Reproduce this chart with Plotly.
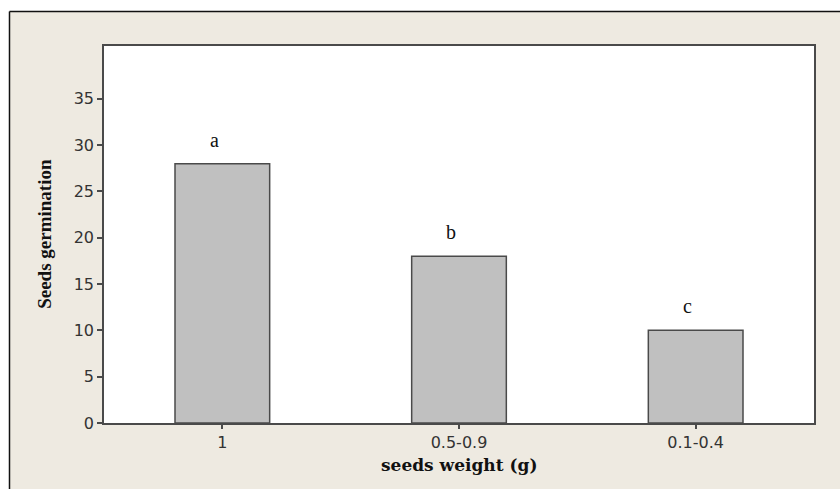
import plotly.graph_objects as go

# Germination by seed-weight class
weight_classes = ["1", "0.5-0.9", "0.1-0.4"]
germination = [28, 18, 10]
group_letters = ["a", "b", "c"]
y_ticks = [0, 5, 10, 15, 20, 25, 30, 35]

BEIGE = "#EEEAE1"
BAR_FILL = "#C0C0C0"
EDGE = "#4a4a4a"

fig = go.Figure()
fig.add_trace(go.Bar(
    x=weight_classes,
    y=germination,
    width=0.40,
    marker=dict(color=BAR_FILL, line=dict(color=EDGE, width=1.5)),
    hoverinfo="x+y",
))

# significance letters above each bar (positioned by category index)
for i, (val, letter) in enumerate(zip(germination, group_letters)):
    fig.add_annotation(
        x=i, y=val, text=letter, showarrow=False,
        xanchor="center", yanchor="middle", xshift=-8, yshift=24,
        font=dict(family="Liberation Serif", size=20, color="#111"),
    )

# axis titles
fig.add_annotation(
    x=0.5, y=-0.111, xref="paper", yref="paper", text="<b>seeds weight (g)</b>",
    showarrow=False, xanchor="center", yanchor="middle",
    font=dict(family="DejaVu Serif", size=17, color="#111"),
)
fig.add_annotation(
    x=-0.083, y=0.502, xref="paper", yref="paper", text="<b>Seeds germination</b>",
    showarrow=False, xanchor="center", yanchor="middle", textangle=-90,
    font=dict(family="Liberation Serif", size=19, color="#111"),
)

# white margin above and left of the beige panel, then the panel's frame lines
fig.add_shape(type="rect", xref="paper", yref="paper", layer="below",
              x0=-0.2, x1=1.2, y0=1.0915, y1=1.3,
              fillcolor="white", line=dict(width=0))
fig.add_shape(type="rect", xref="paper", yref="paper", layer="below",
              x0=-0.2, x1=-0.1331, y0=-0.4, y1=1.3,
              fillcolor="white", line=dict(width=0))
fig.add_shape(type="line", xref="paper", yref="paper", layer="below",
              x0=-0.1331, x1=1.2, y0=1.0915, y1=1.0915,
              line=dict(color="#111", width=1.5))
fig.add_shape(type="line", xref="paper", yref="paper", layer="below",
              x0=-0.1331, x1=-0.1331, y0=-0.4, y1=1.0915,
              line=dict(color="#111", width=1.5))

fig.update_layout(
    width=840, height=489,
    margin=dict(l=104, r=26, t=46, b=66),
    paper_bgcolor=BEIGE,
    plot_bgcolor="white",
    showlegend=False,
    font=dict(family="DejaVu Sans", size=16, color="#333"),
)
fig.update_xaxes(
    type="category", range=[-0.5, 2.5], showgrid=False, zeroline=False,
    showline=True, mirror=True, linecolor=EDGE, linewidth=1.5,
    ticks="outside", ticklen=4, tickwidth=1.5, tickcolor=EDGE,
    tickfont=dict(family="DejaVu Sans", size=16, color="#333"),
)
fig.update_yaxes(
    range=[0, 40.7], tickvals=y_ticks, showgrid=False, zeroline=False,
    showline=True, mirror=True, linecolor=EDGE, linewidth=1.5,
    ticks="outside", ticklen=5, tickwidth=1.5, tickcolor=EDGE,
    tickfont=dict(family="DejaVu Sans", size=16, color="#333"),
)

fig.write_html("out.html")
